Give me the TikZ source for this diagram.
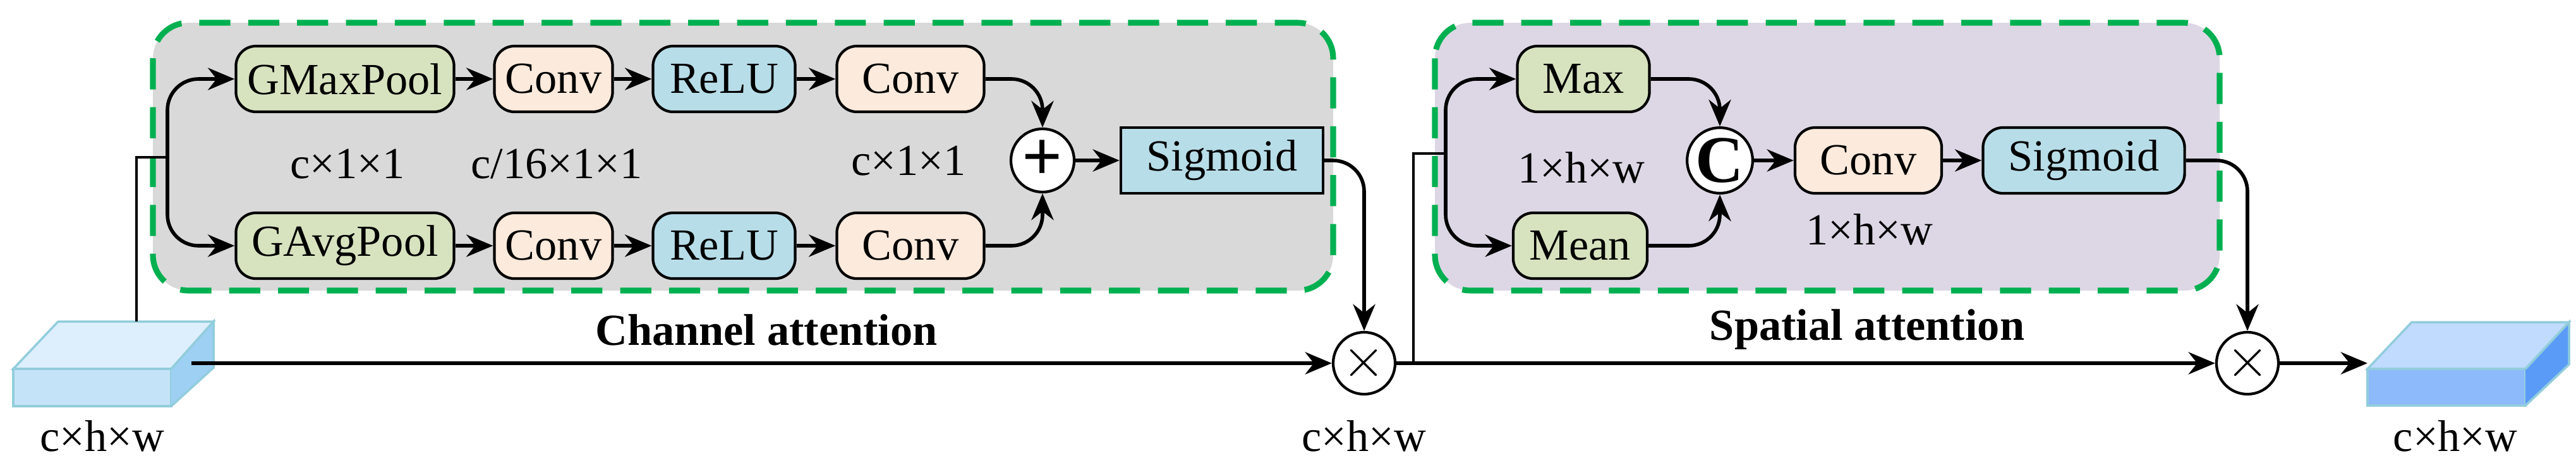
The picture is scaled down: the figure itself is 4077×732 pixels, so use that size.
\documentclass[tikz,border=0pt]{standalone}
\usepackage{fontspec}
\newfontfamily\tms{Liberation Serif}
\usetikzlibrary{arrows.meta}
\definecolor{gfill}{HTML}{D7E3BF}
\definecolor{pfill}{HTML}{FCEADC}
\definecolor{bfill}{HTML}{B7DDE8}
\definecolor{grayb}{HTML}{D9D9D9}
\definecolor{lav}{HTML}{DDD7E5}
\definecolor{dgreen}{HTML}{00B050}
\definecolor{edgeb}{HTML}{92CDDC}
\definecolor{ifront}{HTML}{C5E3F8}
\definecolor{itop}{HTML}{DDEFFD}
\definecolor{iside}{HTML}{9DD0F3}
\definecolor{ofront}{HTML}{8DBAFB}
\definecolor{otop}{HTML}{C0DBFE}
\definecolor{oside}{HTML}{5B9BF8}
\begin{document}
\begin{tikzpicture}[x=0.01cm,y=-0.01cm,font=\tms\fontsize{20}{22}\selectfont,
 blk/.style={draw,line width=1.2pt,rounded corners=9pt,minimum height=1.04cm,inner sep=0pt},
 arr/.style={line width=1.6pt,-{Stealth[length=12pt,width=10pt]}},
 op/.style={draw,line width=1.2pt,circle,minimum size=0.98cm,inner sep=0pt,fill=white},
 grp/.style={draw=dgreen,line width=2.6pt,dash pattern=on 14pt off 8pt,rounded corners=16pt}]
\useasboundingbox (0,0) rectangle (4077,732);
% groups
\draw[grp,fill=grayb] (242,36) rectangle (2110,460);
\draw[grp,fill=lav] (2271,36) rectangle (3513,460);
% channel nodes
\node[blk,fill=gfill,minimum width=3.45cm] (gmax) at (546,125) {GMaxPool};
\node[blk,fill=pfill,minimum width=1.87cm] (c1) at (876,125) {Conv};
\node[blk,fill=bfill,minimum width=2.25cm] (r1) at (1146,125) {ReLU};
\node[blk,fill=pfill,minimum width=2.33cm] (c2) at (1441,125) {Conv};
\node[blk,fill=gfill,minimum width=3.45cm] (gavg) at (546,389) {GAvgPool};
\node[blk,fill=pfill,minimum width=1.87cm] (c3) at (876,389) {Conv};
\node[blk,fill=bfill,minimum width=2.25cm] (r2) at (1146,389) {ReLU};
\node[blk,fill=pfill,minimum width=2.33cm] (c4) at (1441,389) {Conv};
\node[op,minimum size=1.0cm] (plus) at (1650,254) {\fontsize{32}{32}\selectfont\bfseries +};
\node[blk,rounded corners=0pt,fill=bfill,minimum width=3.2cm] (sig1) at (1934,254) {Sigmoid};
\node (l1) at (550,260) {c×1×1};
\node (l2) at (881,260) {c/16×1×1};
\node (l3) at (1438,255) {c×1×1};
\node[font=\tms\fontsize{20}{22}\selectfont\bfseries] (t1) at (1213,522) {Channel attention};
% spatial nodes
\node[blk,fill=gfill,minimum width=2.09cm] (mx) at (2506,125) {Max};
\node[blk,fill=gfill,minimum width=2.12cm] (mn) at (2501,389) {Mean};
\node[op,minimum size=0.94cm] (cat) at (2722,254) {\fontsize{30}{30}\selectfont\bfseries C};
\node[blk,fill=pfill,minimum width=2.32cm] (c5) at (2957,254) {Conv};
\node[blk,fill=bfill,minimum width=3.19cm] (sig2) at (3298,254) {Sigmoid};
\node (l4) at (2503,265) {1×h×w};
\node (l5) at (2959,363) {1×h×w};
\node[font=\tms\fontsize{20}{22}\selectfont\bfseries] (t2) at (2955,522) {Spatial attention};
% multiply nodes
\node[op] (m1) at (2159,575) {\fontsize{28}{28}\selectfont$\times$};
\node[op] (m2) at (3557,575) {\fontsize{28}{28}\selectfont$\times$};
% cuboids
\draw[edgeb,line width=1pt,fill=itop] (21,584) -- (92,509) -- (338,509) -- (271,584) -- cycle;
\draw[edgeb,line width=1pt,fill=ifront] (21,584) rectangle (271,643);
\fill[iside] (271,584) -- (338,509) -- (338,582) -- (271,643) -- cycle;
\draw[edgeb,line width=1pt] (271,584) -- (338,509) -- (338,582) -- (271,643);
\coordinate (in) at (303,575);
\coordinate (intop) at (216,509);
\draw[edgeb,line width=1pt,fill=otop] (3747,584) -- (3817,510) -- (4066,510) -- (3997,584) -- cycle;
\draw[edgeb,line width=1pt,fill=ofront] (3747,584) rectangle (3997,642);
\fill[oside] (3997,584) -- (4066,510) -- (4066,577) -- (3997,642) -- cycle;
\draw[edgeb,line width=1pt] (3997,584) -- (4066,510) -- (4066,577) -- (3997,642);
\coordinate (out) at (3747,575);
\node (o1) at (162,690) {c×h×w};
\node (o2) at (2159,690) {c×h×w};
\node (o3) at (3886,690) {c×h×w};
% channel connectors
\coordinate (sp1) at (265,249);
\draw[line width=1pt] (intop) -- (216,249) -- (sp1);
\draw[arr,rounded corners=14pt] (sp1) |- (gmax.west);
\draw[arr,rounded corners=14pt] (sp1) |- (gavg.west);
\draw[arr] (gmax) -- (c1); \draw[arr] (c1) -- (r1); \draw[arr] (r1) -- (c2);
\draw[arr] (gavg) -- (c3); \draw[arr] (c3) -- (r2); \draw[arr] (r2) -- (c4);
\draw[arr,rounded corners=14pt] (c2.east) -| (plus.north);
\draw[arr,rounded corners=14pt] (c4.east) -| (plus.south);
\draw[arr] (plus) -- (sig1);
\draw[arr,rounded corners=14pt] (sig1.east) -| (m1.north);
\draw[arr] (in) -- (m1.west);
% spatial connectors
\coordinate (sp2) at (2237,575);
\coordinate (sp3) at (2288,243);
\draw[line width=1pt] (sp2) -- (2237,243) -- (sp3);
\draw[arr,rounded corners=14pt] (sp3) |- (mx.west);
\draw[arr,rounded corners=14pt] (sp3) |- (mn.west);
\draw[arr,rounded corners=14pt] (mx.east) -| (cat.north);
\draw[arr,rounded corners=14pt] (mn.east) -| (cat.south);
\draw[arr] (cat) -- (c5); \draw[arr] (c5) -- (sig2);
\draw[arr,rounded corners=14pt] (sig2.east) -| (m2.north);
\draw[arr] (m1.east) -- (m2.west);
\draw[arr] (m2.east) -- (out);
\end{tikzpicture}
\end{document}
